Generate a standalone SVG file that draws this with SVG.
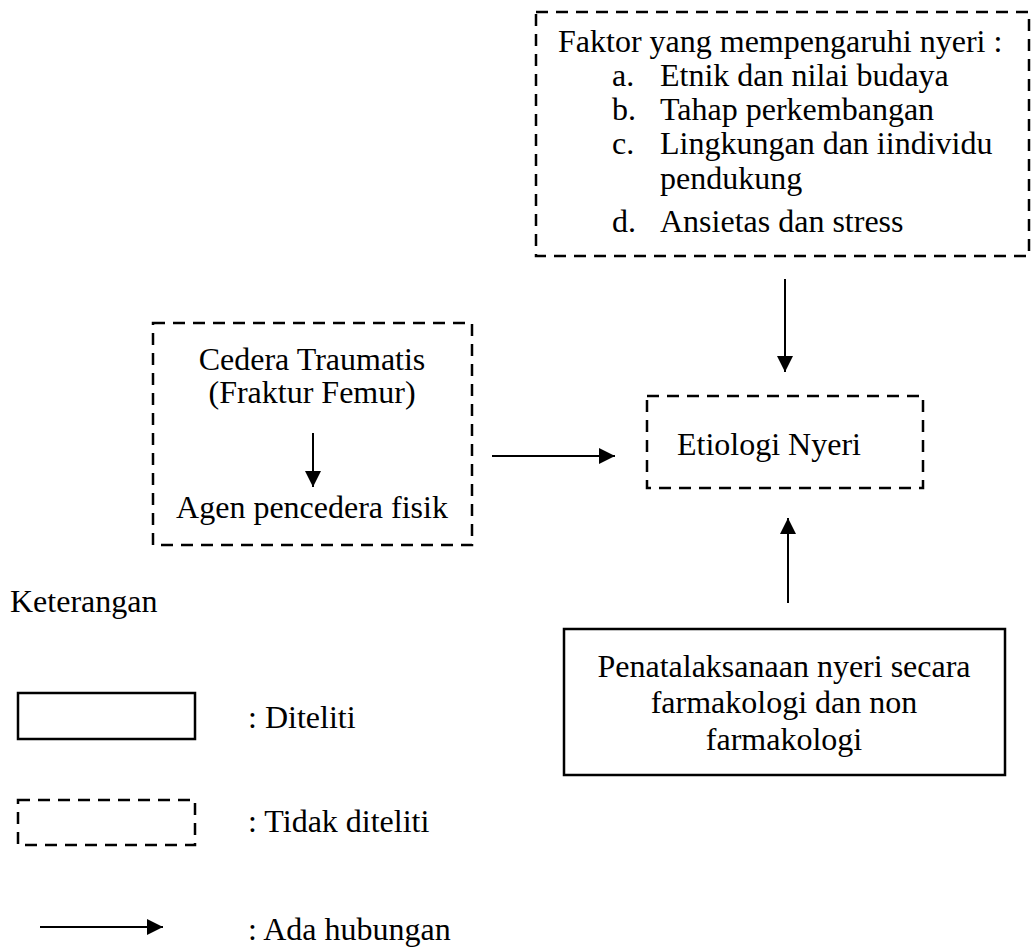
<svg xmlns="http://www.w3.org/2000/svg" width="1031" height="948" viewBox="0 0 1031 948">
<style>
text{font-family:"Liberation Serif","Times New Roman",serif;font-size:32px;fill:#000}
.mid{text-anchor:middle}
.dash{fill:none;stroke:#000;stroke-width:2.5;stroke-dasharray:12 8}
.solid{fill:none;stroke:#000;stroke-width:2.5}
.conn{stroke:#000;stroke-width:2;fill:none;marker-end:url(#ah)}
</style>
<defs>
<marker id="ah" markerUnits="userSpaceOnUse" markerWidth="18" markerHeight="16" refX="16" refY="8" orient="auto">
<path d="M0,0 L16,8 L0,16 Z" fill="#000"/>
</marker>
</defs>
<rect width="1031" height="948" fill="#fff"/>
<g id="faktor">
<rect class="dash" x="536" y="12" width="493" height="244"/>
<text x="558" y="52">Faktor yang mempengaruhi nyeri :</text>
<text x="612" y="86">a.</text><text x="660" y="86">Etnik dan nilai budaya</text>
<text x="612" y="120">b.</text><text x="660" y="120">Tahap perkembangan</text>
<text x="612" y="154">c.</text><text x="660" y="154">Lingkungan dan iindividu</text>
<text x="660" y="189">pendukung</text>
<text x="612" y="232">d.</text><text x="660" y="232">Ansietas dan stress</text>
</g>
<g id="cedera">
<rect class="dash" x="153" y="323" width="319" height="222"/>
<text class="mid" x="312" y="370">Cedera Traumatis</text>
<text class="mid" x="312" y="403">(Fraktur Femur)</text>
<line class="conn" x1="313" y1="433" x2="313" y2="487"/>
<text class="mid" x="312" y="518">Agen pencedera fisik</text>
</g>
<g id="etiologi">
<rect class="dash" x="647" y="396" width="276" height="92"/>
<text x="677" y="455">Etiologi Nyeri</text>
</g>
<g id="penatalaksanaan">
<rect class="solid" x="564" y="629" width="441" height="146"/>
<text class="mid" x="784" y="677">Penatalaksanaan nyeri secara</text>
<text class="mid" x="784" y="713">farmakologi dan non</text>
<text class="mid" x="784" y="750">farmakologi</text>
</g>
<g id="connectors">
<line class="conn" x1="785" y1="279" x2="785" y2="372"/>
<line class="conn" x1="492" y1="456" x2="615" y2="456"/>
<line class="conn" x1="788" y1="603" x2="788" y2="518"/>
</g>
<g id="legend">
<text x="10" y="612">Keterangan</text>
<rect class="solid" x="18" y="693" width="177" height="46"/>
<text x="248" y="728">: Diteliti</text>
<rect class="dash" x="18" y="800" width="177" height="45"/>
<text x="248" y="832">: Tidak diteliti</text>
<line class="conn" x1="40" y1="927" x2="163" y2="927"/>
<text x="248" y="940">: Ada hubungan</text>
</g>
</svg>
